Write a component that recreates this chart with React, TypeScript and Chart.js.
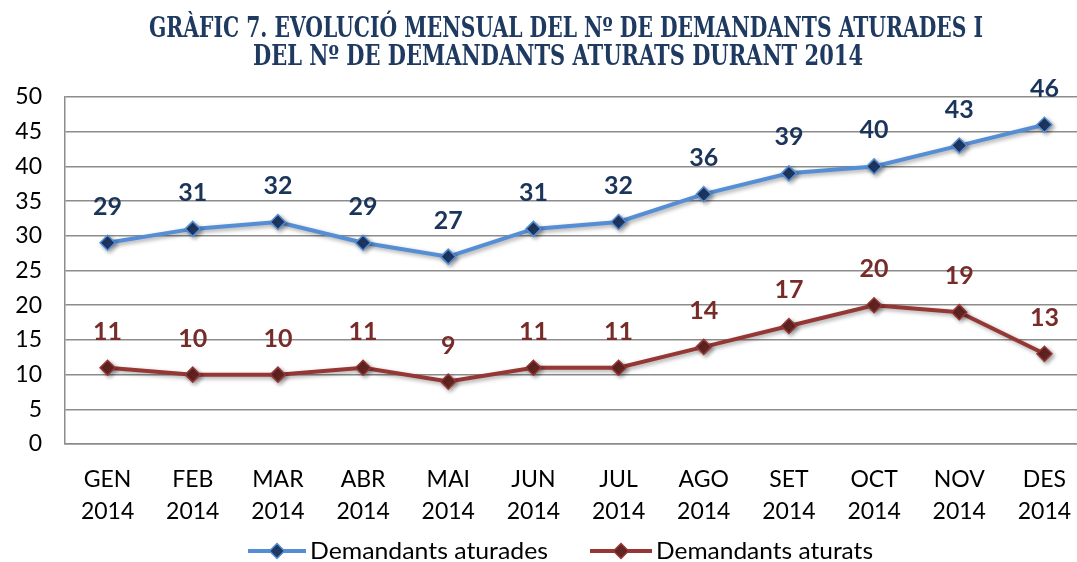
import React, { useEffect, useRef } from "react";
import { Chart, registerables } from "chart.js";

Chart.register(...registerables);

const months = ["GEN", "FEB", "MAR", "ABR", "MAI", "JUN", "JUL", "AGO", "SET", "OCT", "NOV", "DES"];
const yearLabel = "2014";
const aturades = [29, 31, 32, 29, 27, 31, 32, 36, 39, 40, 43, 46];
const aturats = [11, 10, 10, 11, 9, 11, 11, 14, 17, 20, 19, 13];
const seriesNames = ["Demandants aturades", "Demandants aturats"];
const titleLines = [
  "GRÀFIC 7. EVOLUCIÓ MENSUAL DEL Nº DE DEMANDANTS ATURADES I",
  "DEL Nº DE DEMANDANTS ATURATS DURANT 2014",
];

const BLUE_LINE = "#558ED5";
const BLUE_MARK = "#1F3864";
const BLUE_LABEL = "#1B355A";
const RED_LINE = "#953735";
const RED_MARK = "#632523";
const RED_LABEL = "#772C2A";
const GRID = "#8C8C8C";
const TITLE_COLOR = "#1F3A60";
const SANS = "Lato, 'Open Sans', sans-serif";

const lineColors = [BLUE_LINE, RED_LINE];
const markColors = [BLUE_MARK, RED_MARK];
const labelColors = [BLUE_LABEL, RED_LABEL];

function drawDiamond(ctx: CanvasRenderingContext2D, x: number, y: number, r: number, fill: string, stroke: string) {
  ctx.beginPath();
  ctx.moveTo(x, y - r);
  ctx.lineTo(x + r, y);
  ctx.lineTo(x, y + r);
  ctx.lineTo(x - r, y);
  ctx.closePath();
  ctx.fillStyle = fill;
  ctx.fill();
  ctx.lineWidth = 1.5;
  ctx.strokeStyle = stroke;
  ctx.stroke();
}

function fitText(ctx: CanvasRenderingContext2D, text: string, x: number, y: number, width: number, align: "left" | "center") {
  const w = ctx.measureText(text).width;
  const sx = width / w;
  ctx.save();
  ctx.translate(x, y);
  ctx.scale(sx, 1);
  ctx.textAlign = align;
  ctx.fillText(text, 0, 0);
  ctx.restore();
}

const decorPlugin = {
  id: "decor",
  beforeDatasetsDraw(chart: any) {
    const ctx = chart.ctx;
    ctx.save();
    ctx.shadowColor = "rgba(0,0,0,0.35)";
    ctx.shadowBlur = 4;
    ctx.shadowOffsetX = 2;
    ctx.shadowOffsetY = 2;
  },
  afterDatasetsDraw(chart: any) {
    const ctx = chart.ctx;
    ctx.restore();
    chart.data.datasets.forEach((ds: any, di: number) => {
      const meta = chart.getDatasetMeta(di);
      ctx.save();
      ctx.font = `bold 25px ${SANS}`;
      ctx.fillStyle = labelColors[di];
      ctx.textAlign = "center";
      ctx.textBaseline = "middle";
      meta.data.forEach((pt: any, i: number) => {
        ctx.fillText(String(ds.data[i]), pt.x, pt.y - 36);
      });
      ctx.restore();
    });
  },
  afterDraw(chart: any) {
    const ctx = chart.ctx;
    ctx.save();
    ctx.fillStyle = TITLE_COLOR;
    ctx.font = "bold 27px 'DejaVu Serif Condensed', 'DejaVu Serif', serif";
    ctx.textBaseline = "alphabetic";
    fitText(ctx, titleLines[0], 566, 37, 834, "center");
    fitText(ctx, titleLines[1], 558, 65, 610, "center");
    ctx.restore();

    ctx.save();
    const ly = 551;
    const items = [
      { x0: 248, x1: 306, tx: 310, tw: 238 },
      { x0: 590, x1: 652, tx: 656, tw: 217 },
    ];
    items.forEach((it, i) => {
      ctx.strokeStyle = lineColors[i];
      ctx.lineWidth = 4;
      ctx.beginPath();
      ctx.moveTo(it.x0, ly);
      ctx.lineTo(it.x1, ly);
      ctx.stroke();
      drawDiamond(ctx, (it.x0 + it.x1) / 2, ly, 7.5, markColors[i], lineColors[i]);
      ctx.fillStyle = "#000";
      ctx.font = `24px ${SANS}`;
      ctx.textBaseline = "middle";
      fitText(ctx, seriesNames[i], it.tx, ly, it.tw, "left");
    });
    ctx.restore();
  },
};

export default function App() {
  const ref = useRef<HTMLCanvasElement | null>(null);
  useEffect(() => {
    document.body.style.margin = "0";
    const chart = new Chart(ref.current as HTMLCanvasElement, {
      type: "line",
      data: {
        labels: months.map((m) => [m, yearLabel]),
        datasets: [
          {
            label: seriesNames[0],
            data: aturades,
            borderColor: BLUE_LINE,
            borderWidth: 4,
            pointStyle: "rectRot",
            pointRadius: 7.5,
            pointBackgroundColor: BLUE_MARK,
            pointBorderColor: BLUE_LINE,
            pointBorderWidth: 1.5,
            tension: 0,
          },
          {
            label: seriesNames[1],
            data: aturats,
            borderColor: RED_LINE,
            borderWidth: 4,
            pointStyle: "rectRot",
            pointRadius: 7.5,
            pointBackgroundColor: RED_MARK,
            pointBorderColor: RED_LINE,
            pointBorderWidth: 1.5,
            tension: 0,
          },
        ],
      },
      options: {
        animation: false,
        responsive: true,
        maintainAspectRatio: false,
        layout: { padding: { top: 97, bottom: 14, left: 0, right: 0 } },
        plugins: {
          legend: { display: false },
          title: { display: false },
          tooltip: { enabled: false },
        },
        scales: {
          x: {
            offset: true,
            grid: { display: false, drawTicks: false },
            border: { display: true, color: GRID, width: 1.5 },
            ticks: {
              color: "#000",
              font: { family: SANS, size: 23, lineHeight: 1.39 },
              padding: 20,
              maxRotation: 0,
              autoSkip: false,
            },
          },
          y: {
            min: 0,
            max: 50,
            afterFit: (s: any) => {
              s.width = 65;
            },
            ticks: {
              stepSize: 5,
              color: "#000",
              font: { family: SANS, size: 23 },
              padding: 23,
            },
            grid: { color: GRID, lineWidth: 1.5, drawTicks: false },
            border: { display: true, color: GRID, width: 1.5 },
          },
        },
      },
      plugins: [decorPlugin],
    });
    return () => chart.destroy();
  }, []);
  return (
    <div style={{ position: "fixed", left: 0, top: 0, width: 1077, height: 562, overflow: "hidden" }}>
      <div style={{ position: "relative", width: 1096, height: 562 }}>
        <canvas ref={ref} />
      </div>
    </div>
  );
}
